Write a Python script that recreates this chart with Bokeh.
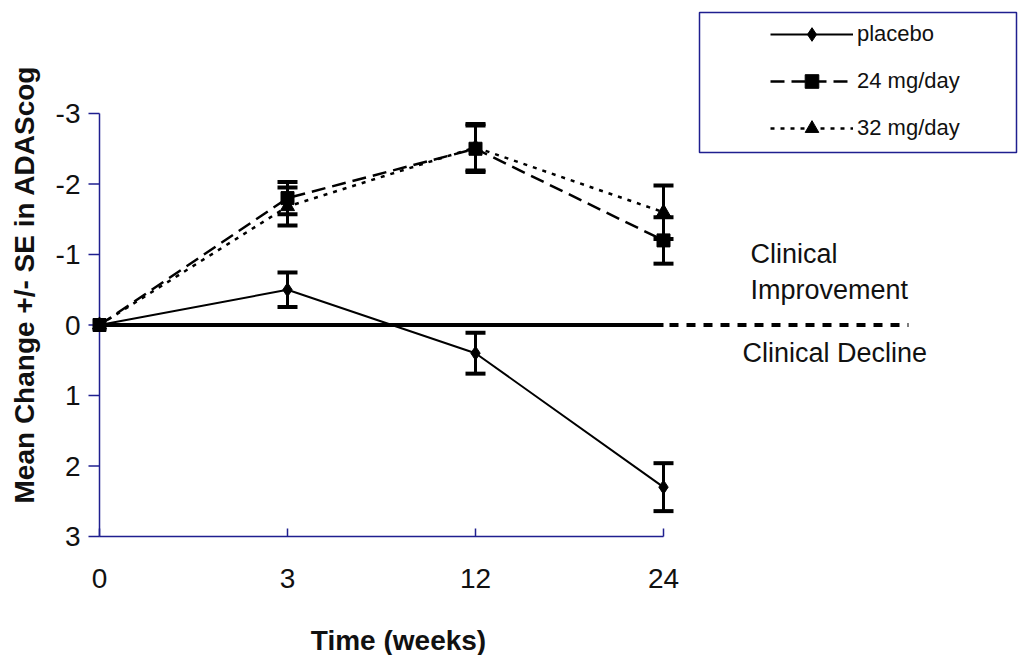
import math
from bokeh.plotting import figure
from bokeh.models import (ColumnDataSource, Whisker, TeeHead, Range1d,
                          Label, Legend, LegendItem, BoxAnnotation)
from bokeh.core.properties import value
from bokeh.embed import file_html
from bokeh.resources import INLINE

# ---- data ----
weeks = ["0", "3", "12", "24"]
placebo = [0.0, -0.5, 0.4, 2.3]
placebo_se = [0.0, 0.245, 0.29, 0.34]
mg24 = [0.0, -1.8, -2.5, -1.2]
mg24_se = [0.0, 0.23, 0.33, 0.33]
mg32 = [0.0, -1.68, -2.52, -1.6]
mg32_se = [0.0, 0.27, 0.33, 0.38]
y_ticks = [-3, -2, -1, 0, 1, 2, 3]
series_names = ["placebo", "24 mg/day", "32 mg/day"]
x_title = "Time (weeks)"
y_title = "Mean Change +/- SE in ADAScog"
note_up = ["Clinical", "Improvement"]
note_down = "Clinical Decline"

# ---- layout / style ----
W, H = 1018, 655
X0PX, XSTEP = 99.0, 188.0        # pixel of first category, pixels per category
Y0PX, YUNIT = 324.5, 70.5        # pixel of value 0, pixels per unit (value grows downward)
FONT = "Liberation Sans"
NAVY = "#1f1f8f"
INK = "#111111"

def dx(px):  # pixel offset -> data x offset
    return px / XSTEP

def dy(px):  # pixel offset (downwards) -> data y offset
    return px / YUNIT

def xd(px):
    return (px - X0PX) / XSTEP

def yd(px):
    return (px - Y0PX) / YUNIT

xpos = list(range(len(weeks)))
ymin, ymax = y_ticks[0], y_ticks[-1]

p = figure(width=W, height=H, output_backend="svg", toolbar_location=None,
           x_axis_location=None, y_axis_location=None, min_border=0,
           x_range=Range1d(xd(0), xd(W)), y_range=Range1d(yd(H), yd(0)))
p.grid.visible = False
p.outline_line_color = None
p.background_fill_color = "white"
p.border_fill_color = "white"

# ---- axes (drawn through the data scales) ----
p.line(x=[xpos[0], xpos[-1]], y=[ymax, ymax], line_color=NAVY, line_width=1.5)
p.line(x=[xpos[0], xpos[0]], y=[ymin, ymax], line_color=NAVY, line_width=1.5)
# x ticks point up into the plot
p.segment(x0=xpos, x1=xpos, y0=[ymax] * len(xpos), y1=[ymax - dy(8)] * len(xpos),
          line_color=NAVY, line_width=1.5)
# y ticks point left
p.segment(x0=[xpos[0] - dx(11)] * len(y_ticks), x1=[xpos[0]] * len(y_ticks),
          y0=y_ticks, y1=y_ticks, line_color=NAVY, line_width=1.5)
# tick labels
p.text(x=xpos, y=[ymax + dy(42)] * len(xpos), text=weeks,
       text_align="center", text_baseline="middle",
       text_font=value(FONT), text_font_size=value("28px"), text_color=INK)
p.text(x=[xpos[0] - dx(19)] * len(y_ticks), y=y_ticks, text=[str(t) for t in y_ticks],
       text_align="right", text_baseline="middle",
       text_font=value(FONT), text_font_size=value("28px"), text_color=INK)
# axis titles
p.add_layout(Label(x=xd(398), y=yd(640), text=x_title, text_align="center",
                   text_baseline="middle", text_font=FONT, text_font_size="28px",
                   text_font_style="bold", text_color=INK))
p.add_layout(Label(x=xd(24), y=yd(284), text=y_title, text_align="center",
                   text_baseline="middle", angle=math.pi / 2, text_font=FONT,
                   text_font_size="28px", text_font_style="bold", text_color=INK))

# ---- zero reference line: solid over the data, dashed beyond ----
p.line(x=[xpos[0], xpos[-1]], y=[0, 0], line_color="black", line_width=4)
p.line(x=[xpos[-1] + dx(6), xd(908)], y=[0, 0], line_color="black", line_width=4,
       line_dash="9 8")

def add_series(vals, se, dash, marker, msize, lw):
    src = ColumnDataSource(dict(x=xpos, y=vals))
    ln = p.line("x", "y", source=src, line_color="black", line_width=lw, line_dash=dash)
    idx = [i for i in range(len(vals)) if se[i] > 0]
    wsrc = ColumnDataSource(dict(x=[xpos[i] for i in idx],
                                 lo=[vals[i] - se[i] for i in idx],
                                 hi=[vals[i] + se[i] for i in idx]))
    w = Whisker(source=wsrc, base="x", lower="lo", upper="hi", line_width=3, line_color="black",
                upper_head=TeeHead(size=20, line_width=4, line_color="black"),
                lower_head=TeeHead(size=20, line_width=4, line_color="black"))
    p.add_layout(w)
    sc = p.scatter("x", "y", source=src, marker=marker, size=msize, color="black")
    return ln, sc

r_pl = add_series(placebo, placebo_se, "solid", "diamond", 14, 2)
r_32 = add_series(mg32, mg32_se, "4 6", "triangle", 14, 2.5)
r_24 = add_series(mg24, mg24_se, "14 7", "square", 13, 2.5)

# ---- legend ----
box = BoxAnnotation(left=xd(699), right=xd(1016), top=yd(12), bottom=yd(152),
                    fill_alpha=0, line_color=NAVY, line_alpha=1, line_width=1.5)
p.add_layout(box)

legend = Legend(items=[LegendItem(label=series_names[0], renderers=list(r_pl)),
                       LegendItem(label=series_names[1], renderers=list(r_24)),
                       LegendItem(label=series_names[2], renderers=list(r_32))],
                location=(770, H - 145), padding=5, spacing=13, glyph_width=83,
                glyph_height=34, label_height=34, label_standoff=4,
                label_text_font=FONT, label_text_font_size="22px", label_text_color=INK,
                border_line_color=None, background_fill_alpha=0)
p.add_layout(legend)

# ---- annotations ----
for txt, xp, yp in [(note_up[0], 750, 253), (note_up[1], 750, 289), (note_down, 742, 352)]:
    p.add_layout(Label(x=xd(xp), y=yd(yp), text=txt, text_baseline="middle", text_font=FONT,
                       text_font_size="27px", text_color=INK))

open("out.html", "w").write(file_html(p, INLINE))
